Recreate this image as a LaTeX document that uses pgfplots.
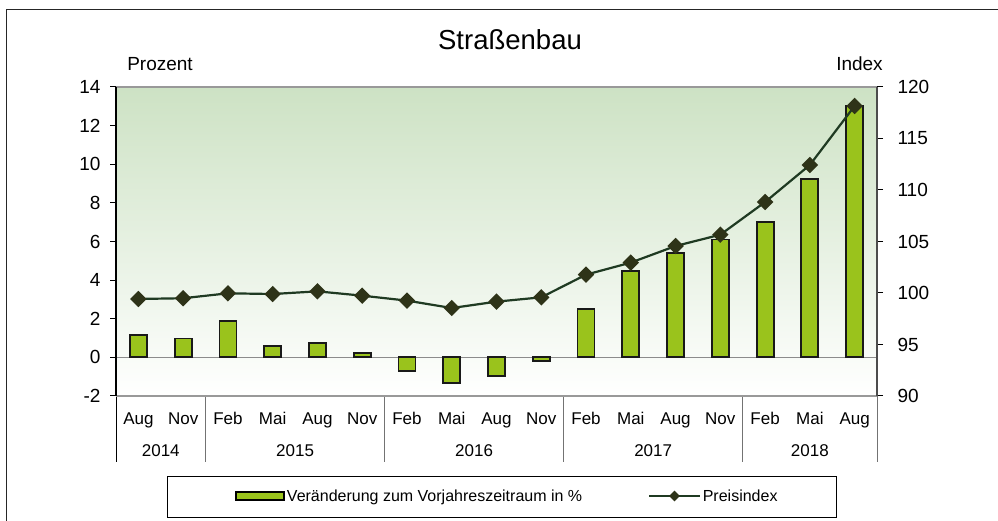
\documentclass[border=0pt]{standalone}
\usepackage{fontspec}
\setmainfont{Liberation Sans}
\usepackage{pgfplots}
\pgfplotsset{compat=1.18}
\definecolor{barfill}{HTML}{9AC31C}
\definecolor{linecol}{HTML}{1F3A22}
\definecolor{markcol}{HTML}{2E3318}
\definecolor{bgtop}{HTML}{CDE2C4}
\begin{document}
\begin{tikzpicture}[x=1bp,y=1bp]
\useasboundingbox (0,0) rectangle (998,521);
\draw[black!85, line width=1bp] (6,-10) -- (6,511) -- (1010,511);
\node[anchor=base, inner sep=0pt, font=\fontsize{27.5bp}{30bp}\selectfont] at (510,471.7) {Straßenbau};
\node[anchor=base, inner sep=0pt, font=\fontsize{19bp}{22bp}\selectfont] at (160,450.3) {Prozent};
\node[anchor=base, inner sep=0pt, font=\fontsize{19bp}{22bp}\selectfont] at (859.5,450.5) {Index};
\draw[black, line width=1bp] (167,3) rectangle (836,44);
\begin{axis}[
  at={(116bp,125bp)}, anchor=south west, scale only axis,
  width=761bp, height=309bp,
  xmin=-0.5, xmax=16.5, ymin=-2, ymax=14,
  ytick={-2,0,...,14},
  ytick pos=left, tick align=outside, major tick length=6bp,
  tick style={black, line width=1bp},
  xtick={0,...,16},
  xticklabels={Aug,Nov,Feb,Mai,Aug,Nov,Feb,Mai,Aug,Nov,Feb,Mai,Aug,Nov,Feb,Mai,Aug},
  x tick style={draw=none},
  xticklabel style={anchor=base, yshift=-23bp, font=\fontsize{17bp}{20bp}\selectfont},
  yticklabel style={font=\fontsize{19bp}{22bp}\selectfont, xshift=-6bp},
  /pgf/number format/assume math mode=true,
  axis line style={draw=none},
  axis background/.style={top color=bgtop, bottom color=white},
  clip=false,
]
\addplot[black!45, line width=1.2bp, forget plot] coordinates {(-0.5,0) (16.5,0)};
\addplot[ybar, bar width=17bp, fill=barfill, draw=black!90, line width=1.8bp, forget plot] coordinates {
(0,1.16) (1,0.98) (2,1.89) (3,0.59) (4,0.73) (5,0.24) (6,-0.72) (7,-1.31) (8,-0.98)
(9,-0.2) (10,2.5) (11,4.49) (12,5.39) (13,6.1) (14,7.0) (15,9.22) (16,13.0)};
\draw[black, line width=1bp] (axis cs:-0.5,-2) -- ++(0bp,-66bp);
\draw[black!55, line width=1bp] (axis cs:1.5,-2) -- ++(0bp,-66bp);
\draw[black!55, line width=1bp] (axis cs:5.5,-2) -- ++(0bp,-66bp);
\draw[black!55, line width=1bp] (axis cs:9.5,-2) -- ++(0bp,-66bp);
\draw[black!55, line width=1bp] (axis cs:13.5,-2) -- ++(0bp,-66bp);
\draw[black!55, line width=1bp] (axis cs:16.5,-2) -- ++(0bp,-66bp);
\node[anchor=base, font=\fontsize{17bp}{20bp}\selectfont] at ([yshift=-61bp]axis cs:0.5,-2) {2014};
\node[anchor=base, font=\fontsize{17bp}{20bp}\selectfont] at ([yshift=-61bp]axis cs:3.5,-2) {2015};
\node[anchor=base, font=\fontsize{17bp}{20bp}\selectfont] at ([yshift=-61bp]axis cs:7.5,-2) {2016};
\node[anchor=base, font=\fontsize{17bp}{20bp}\selectfont] at ([yshift=-61bp]axis cs:11.5,-2) {2017};
\node[anchor=base, font=\fontsize{17bp}{20bp}\selectfont] at ([yshift=-61bp]axis cs:15,-2) {2018};
\end{axis}
\begin{axis}[
  at={(116bp,125bp)}, anchor=south west, scale only axis,
  width=761bp, height=309bp,
  xmin=-0.5, xmax=16.5, ymin=90, ymax=120,
  ytick={90,95,...,120},
  ytick pos=right, tick align=outside, major tick length=6bp,
  tick style={black, line width=1bp},
  hide x axis,
  yticklabel style={font=\fontsize{19bp}{22bp}\selectfont, xshift=11bp},
  /pgf/number format/assume math mode=true,
  axis line style={draw=none},
  clip=false,
  legend style={at={(0.1524,-0.3236)}, anchor=west, draw=none, fill=none,
    legend columns=2, font=\fontsize{16bp}{18bp}\selectfont,
    /tikz/every even column/.append style={column sep=64bp}},
  legend cell align=left,
]
\addlegendimage{legend image code/.code={\draw[fill=barfill, draw=black, line width=1.8bp] (0bp,-4bp) rectangle (48bp,4bp);}}
\addlegendentry{Veränderung zum Vorjahreszeitraum in \%}
\addplot[linecol, line width=2.2bp, mark=square*, mark size=4.7bp,
  mark options={rotate=45, fill=markcol, draw=markcol},
  legend image code/.code={\draw[linecol, line width=1.6bp, mark=square*, mark size=3bp, mark options={rotate=45, fill=markcol, draw=markcol}, mark repeat=2, mark phase=2] plot coordinates {(0bp,0bp) (25.5bp,0bp) (51bp,0bp)};}]
 coordinates {
(0,99.42) (1,99.49) (2,99.97) (3,99.9) (4,100.16) (5,99.74) (6,99.26) (7,98.54) (8,99.16)
(9,99.58) (10,101.78) (11,102.95) (12,104.56) (13,105.66) (14,108.83) (15,112.43) (16,118.16)};
\addlegendentry{Preisindex}
\draw[black!40, line width=1.5bp] (rel axis cs:0,1) -- (rel axis cs:1,1);
\draw[black!40, line width=1.5bp] (rel axis cs:0,0) -- (rel axis cs:1,0);
\draw[black, line width=1.2bp] (rel axis cs:0,0) -- (rel axis cs:0,1);
\draw[black!70, line width=1.2bp] (rel axis cs:1,0) -- (rel axis cs:1,1);
\end{axis}
\end{tikzpicture}
\end{document}
